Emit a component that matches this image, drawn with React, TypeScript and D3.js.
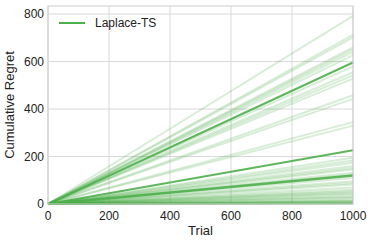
import React from 'react';
import * as d3 from 'd3';

// final cumulative regret of each run at trial 1000
const faintRuns = [792, 712, 702, 660, 651, 641, 627, 580, 555, 542, 528, 458, 443, 345, 330,
  195, 183, 174, 160, 152, 145, 132, 124, 110, 96, 88, 82, 70, 60, 54, 50, 44, 40, 33, 28, 25,
  18, 15, 12, 10, 8, 6, 4, 3, 2, 1];
const boldRuns = [596, 226, 120];
const xTicks = [0, 200, 400, 600, 800, 1000];
const yTicks = [0, 200, 400, 600, 800];
const seriesName = 'Laplace-TS';

const W = 374;
const H = 244;
const margin = { top: 6, right: 21, bottom: 40, left: 48 };
const green = '#4daf4a';
const font = 'Liberation Sans, Arial, sans-serif';

const App = () => {
  const iw = W - margin.left - margin.right;
  const ih = H - margin.top - margin.bottom;
  const x = d3.scaleLinear().domain([0, 1000]).range([0, iw]);
  const y = d3.scaleLinear().domain([0, 834]).range([ih, 0]);

  const line = d3.line<[number, number]>()
    .x(d => x(d[0]))
    .y(d => y(d[1]));
  const run = (v: number) => line([[0, 0], [1000, v]]) || '';

  return (
    <svg width={W} height={H} style={{ position: 'absolute', left: 0, top: 0, background: '#fff' }}>
      <g transform={`translate(${margin.left},${margin.top})`}>
        {/* grid */}
        {xTicks.map(t => (
          <line key={'gx' + t} x1={x(t)} x2={x(t)} y1={0} y2={ih} stroke="#d9d9d9" strokeWidth={1} />
        ))}
        {yTicks.map(t => (
          <line key={'gy' + t} x1={0} x2={iw} y1={y(t)} y2={y(t)} stroke="#d9d9d9" strokeWidth={1} />
        ))}

        {/* runs */}
        {faintRuns.map((v, i) => (
          <path key={'f' + i} d={run(v)} fill="none" stroke={green} strokeOpacity={0.22} strokeWidth={2} />
        ))}
        {boldRuns.map((v, i) => (
          <path key={'b' + i} d={run(v)} fill="none" stroke={green} strokeOpacity={0.9}
            strokeWidth={i === 2 ? 2.6 : 2} />
        ))}

        {/* frame */}
        <rect x={0} y={0} width={iw} height={ih} fill="none" stroke="#cccccc" strokeWidth={1} />

        {/* ticks */}
        {xTicks.map(t => (
          <text key={'tx' + t} x={x(t)} y={ih + 16} textAnchor="middle" fontFamily={font} fontSize={12} fill="#222">{t}</text>
        ))}
        {yTicks.map(t => (
          <text key={'ty' + t} x={-4} y={y(t)} dy="0.35em" textAnchor="end" fontFamily={font} fontSize={12} fill="#222">{t}</text>
        ))}

        {/* axis labels */}
        <text x={iw / 2} y={ih + 31} textAnchor="middle" fontFamily={font} fontSize={13} fill="#222">Trial</text>
        <text transform={`translate(${-34},${ih / 2}) rotate(-90)`} textAnchor="middle" fontFamily={font} fontSize={13} fill="#222">Cumulative Regret</text>

        {/* legend */}
        <line x1={11} x2={37} y1={17} y2={17} stroke={green} strokeWidth={2} />
        <text x={47} y={17} dy="0.35em" fontFamily={font} fontSize={12} fill="#222">{seriesName}</text>
      </g>
    </svg>
  );
};

export default App;
